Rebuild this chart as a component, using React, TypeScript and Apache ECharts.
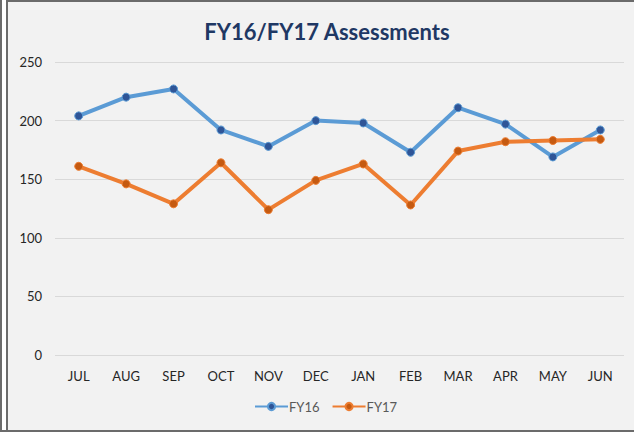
import React, { useEffect, useRef } from "react";
import * as echarts from "echarts";

const months = ["JUL", "AUG", "SEP", "OCT", "NOV", "DEC", "JAN", "FEB", "MAR", "APR", "MAY", "JUN"];
const fy16 = [204, 220, 227, 192, 178, 200, 198, 173, 211, 197, 169, 192];
const fy17 = [161, 146, 129, 164, 124, 149, 163, 128, 174, 182, 183, 184];
const yTicks = [0, 50, 100, 150, 200, 250];

const FONT = "Lato, 'Open Sans', sans-serif";

export default function App() {
  const ref = useRef<HTMLDivElement>(null);
  useEffect(() => {
    if (!ref.current) return;
    const chart = echarts.init(ref.current, null, { renderer: "svg" });
    chart.setOption({
      animation: false,
      backgroundColor: "#ffffff",
      graphic: [
        { type: "rect", shape: { x: 7, y: 0, width: 627, height: 432 }, style: { fill: "#f2f2f2" }, z: -10 },
        { type: "rect", shape: { x: 0, y: 0, width: 2, height: 432 }, style: { fill: "#6b6b6b" } },
        { type: "rect", shape: { x: 6, y: 0, width: 2, height: 432 }, style: { fill: "#6b6b6b" } },
        { type: "rect", shape: { x: 6, y: 0, width: 628, height: 2 }, style: { fill: "#6b6b6b" } },
        { type: "rect", shape: { x: 0, y: 430, width: 634, height: 2 }, style: { fill: "#6b6b6b" } },
      ],
      title: {
        text: "FY16/FY17 Assessments",
        left: 322,
        textAlign: "center",
        top: 15,
        textStyle: { fontFamily: FONT, fontSize: 22, fontWeight: "bold", color: "#1f3864" },
      },
      legend: {
        bottom: 14,
        left: 249,
        itemWidth: 33,
        itemHeight: 9,
        itemGap: 12,
        textStyle: { fontFamily: FONT, fontSize: 13, color: "#595959", padding: [0, 0, 0, -4] },
        data: ["FY16", "FY17"],
      },
      grid: { left: 55, right: 10, top: 62, bottom: 77 },
      xAxis: {
        type: "category",
        data: months,
        boundaryGap: true,
        axisLine: { show: false },
        axisTick: { show: false },
        axisLabel: { fontFamily: FONT, fontSize: 13, color: "#262626", margin: 14 },
      },
      yAxis: {
        type: "value",
        min: yTicks[0],
        max: yTicks[yTicks.length - 1],
        interval: 50,
        axisLine: { show: false },
        axisTick: { show: false },
        axisLabel: { fontFamily: FONT, fontSize: 13, color: "#262626", margin: 13 },
        splitLine: { lineStyle: { color: "#d9d9d9", width: 1 } },
      },
      series: [
        {
          name: "FY16",
          type: "line",
          data: fy16,
          symbol: "circle",
          symbolSize: 8,
          lineStyle: { color: "#5b9bd5", width: 4 },
          itemStyle: { color: "#2f5597", borderColor: "#5b9bd5", borderWidth: 1 },
        },
        {
          name: "FY17",
          type: "line",
          data: fy17,
          symbol: "circle",
          symbolSize: 8,
          lineStyle: { color: "#ed7d31", width: 4 },
          itemStyle: { color: "#c55a11", borderColor: "#ed7d31", borderWidth: 1 },
        },
      ],
    });
    return () => chart.dispose();
  }, []);
  return (
    <div
      ref={ref}
      style={{ position: "absolute", left: 0, top: 0, width: 634, height: 432 }}
    />
  );
}
